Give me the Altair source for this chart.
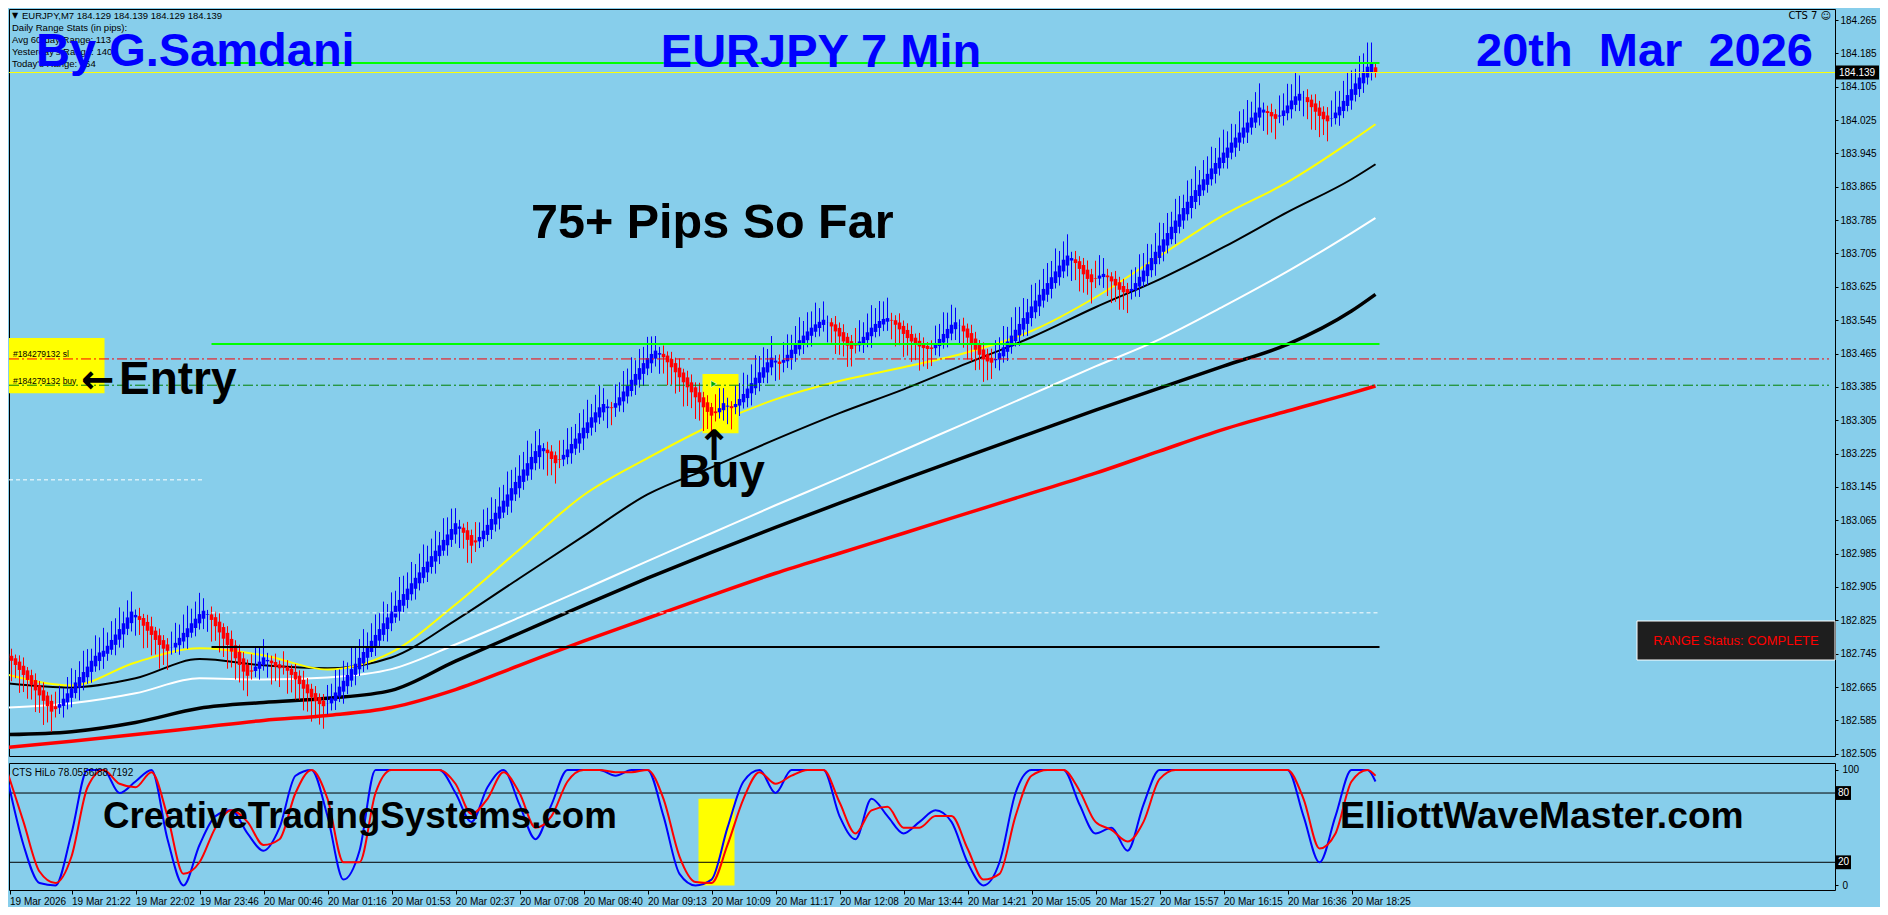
import altair as alt
import pandas as pd

BG = "#87CEEB"
W = 1826
H_MAIN = 747
H_SUB = 127
BASE = 182.0
X_DOM = [0.375, 0.375 + W / 4]
Y_DOM = [182.4996, 184.2914]
O_DOM = [-4, 106]
BODY_HALF = 0.44  # half body width in bar units

# ---------------- data (prices in points above 182.000) ----------------
first_open_pts = 745
closes_pts = [
    735, 728, 718, 706, 694, 682, 670, 657, 645, 632, 619, 606,
    612, 624, 637, 650, 662, 676, 689, 701, 714, 728, 740, 748, 752, 764, 778, 791, 804, 818, 832, 846,
    838, 826, 812, 800, 790, 778, 766, 757, 752,
    760, 771, 783, 795, 806, 818, 829, 840, 848,
    840, 826, 811, 796, 781, 766, 750, 734, 718, 702, 692,
    702, 714, 726, 736,
    730, 722, 714, 710, 712, 704, 694, 683, 672, 661, 650, 640, 631, 624, 619,
    626, 638, 652, 666, 680, 694, 708, 721, 735, 749, 763, 776, 790, 804, 818, 832, 846, 860, 874, 888,
    901, 914, 927, 940, 953, 966, 979, 992, 1005, 1018, 1031, 1044, 1058,
    1050, 1035, 1018, 1004,
    1012, 1025, 1040, 1054, 1068, 1083, 1098, 1112, 1127, 1142, 1157, 1172, 1187, 1202, 1217, 1231, 1245,
    1238, 1226, 1212, 1202,
    1210, 1222, 1235, 1248, 1261, 1274, 1287, 1300, 1312, 1324, 1336, 1344, 1338, 1334, 1346, 1360, 1374,
    1388, 1402, 1416, 1430, 1442, 1454, 1464, 1472,
    1466, 1456, 1444, 1432, 1420, 1408, 1396, 1384, 1372, 1360, 1348, 1336, 1325, 1316,
    1322, 1334, 1346, 1340, 1334, 1344,
    1356, 1368, 1381, 1394, 1407, 1420, 1432, 1444, 1455,
    1448, 1440,
    1450, 1462, 1474, 1486, 1497, 1508, 1518, 1527, 1535, 1541, 1546,
    1540, 1530, 1518, 1506, 1494, 1484, 1476,
    1484, 1494, 1505, 1516, 1527, 1536, 1543, 1548, 1550,
    1544, 1534, 1523, 1512, 1502, 1494, 1488, 1482, 1478, 1476, 1476,
    1488, 1500, 1512, 1524, 1534, 1540,
    1532, 1518, 1503, 1488, 1474, 1462, 1452, 1446, 1443,
    1452, 1466, 1480, 1494, 1508, 1522, 1536, 1550, 1564, 1578, 1592, 1606, 1620, 1634, 1648, 1662, 1676,
    1690, 1700,
    1694, 1682, 1668, 1655, 1644, 1636, 1644, 1652, 1656, 1648, 1638, 1628, 1618, 1612, 1610,
    1620, 1634, 1649, 1664, 1679, 1694, 1709, 1724, 1739, 1754, 1769, 1784, 1799, 1814, 1829, 1843, 1857,
    1870, 1883, 1896, 1909, 1922, 1935, 1947, 1959, 1971, 1983, 1995, 2007, 2019, 2031, 2043, 2055,
    2050, 2042, 2034, 2028,
    2036, 2048, 2060, 2072, 2082, 2088,
    2080, 2068, 2056, 2045, 2035, 2027, 2022,
    2030, 2043, 2057, 2071, 2085, 2099, 2113, 2127, 2141, 2153, 2163,
    2139,
]
# wick lengths beyond the body (points)
up_wick = [
    12, 17, 9, 15, 20, 8, 13, 16, 10, 19, 9, 15, 35, 44, 26, 39, 48, 30, 38, 51,
    42, 29, 49, 36, 55, 32, 45, 39, 52, 28, 41, 48, 13, 20, 10, 17, 23, 9, 16, 12,
    15, 38, 48, 32, 44, 54, 35, 41, 51, 30, 10, 19, 13, 22, 9, 16, 20, 12, 17, 15,
    13, 39, 49, 33, 44, 17, 12, 20, 9, 36, 16, 10, 19, 13, 22, 15, 12, 17, 9, 16,
    44, 35, 54, 41, 48, 30, 51, 38, 45, 55, 33, 42, 49, 39, 52, 32, 46, 36, 55, 44,
    39, 51, 33, 45, 54, 38, 42, 48, 32, 52, 41, 49, 36, 16, 10, 20, 13, 44, 35, 51,
    41, 52, 33, 46, 38, 55, 44, 35, 49, 42, 54, 32, 48, 39, 12, 19, 15, 9, 45, 36,
    51, 41, 35, 48, 44, 54, 32, 42, 52, 38, 17, 13, 45, 36, 49, 41, 54, 33, 46, 39,
    51, 42, 35, 15, 20, 10, 17, 13, 22, 9, 16, 19, 12, 23, 13, 17, 10, 41, 48, 36,
    19, 12, 44, 38, 51, 33, 45, 54, 39, 48, 32, 52, 13, 17, 42, 49, 36, 45, 55, 35,
    46, 39, 52, 33, 44, 16, 10, 20, 13, 19, 9, 15, 41, 51, 35, 45, 54, 38, 48, 42,
    49, 17, 12, 22, 13, 16, 20, 10, 19, 15, 9, 17, 44, 36, 52, 39, 48, 35, 15, 19,
    12, 20, 16, 10, 17, 13, 22, 45, 38, 51, 35, 44, 54, 41, 48, 32, 52, 42, 36, 48,
    48, 39, 55, 35, 44, 51, 15, 20, 12, 17, 22, 13, 42, 49, 38, 16, 10, 19, 13, 17,
    15, 46, 38, 54, 42, 49, 33, 45, 55, 39, 48, 36, 52, 44, 32, 51, 41, 57, 35, 46,
    42, 52, 36, 48, 55, 39, 45, 32, 51, 44, 54, 38, 49, 58, 17, 13, 20, 12, 48, 41,
    52, 39, 57, 44, 15, 19, 12, 22, 16, 13, 20, 42, 51, 38, 48, 55, 45, 35, 52, 44,
    58, 48, 9,
]
dn_wick = [
    38, 49, 32, 55, 41, 45, 35, 52, 42, 58, 39, 48, 20, 15, 28, 17, 23, 13, 30, 19,
    16, 26, 13, 22, 29, 17, 12, 25, 19, 32, 15, 20, 44, 36, 54, 41, 49, 35, 57, 39,
    46, 17, 13, 23, 16, 28, 12, 20, 15, 25, 41, 52, 35, 48, 44, 57, 38, 51, 42, 45,
    49, 19, 15, 26, 13, 39, 51, 35, 45, 17, 55, 42, 48, 38, 52, 44, 58, 41, 49, 54,
    26, 17, 22, 13, 29, 19, 15, 25, 16, 20, 28, 12, 23, 17, 15, 30, 19, 13, 22, 16,
    20, 15, 26, 17, 13, 23, 16, 29, 19, 12, 25, 17, 22, 46, 38, 55, 42, 23, 16, 19,
    15, 22, 17, 26, 13, 20, 29, 16, 23, 19, 12, 25, 17, 28, 44, 54, 39, 49, 20, 16,
    17, 25, 15, 22, 28, 13, 19, 23, 16, 20, 48, 41, 22, 15, 26, 17, 13, 23, 19, 29,
    16, 23, 19, 46, 39, 55, 42, 51, 35, 58, 45, 38, 52, 44, 57, 41, 49, 20, 15, 25,
    42, 51, 17, 25, 15, 22, 29, 16, 20, 13, 26, 19, 44, 38, 23, 16, 28, 19, 15, 22,
    17, 26, 13, 20, 16, 48, 39, 54, 44, 36, 51, 42, 19, 15, 23, 17, 28, 13, 20, 16,
    22, 45, 52, 38, 55, 42, 49, 39, 58, 44, 48, 41, 17, 25, 15, 22, 16, 26, 46, 39,
    52, 42, 49, 36, 55, 45, 39, 19, 26, 15, 22, 17, 13, 25, 16, 29, 20, 15, 23, 17,
    17, 23, 13, 20, 16, 26, 49, 41, 54, 44, 38, 51, 22, 16, 26, 45, 52, 39, 48, 42,
    48, 20, 16, 25, 13, 22, 17, 28, 15, 23, 19, 12, 26, 16, 20, 15, 25, 17, 22, 13,
    19, 15, 23, 17, 13, 26, 16, 22, 20, 15, 25, 17, 13, 19, 44, 52, 39, 49, 16, 23,
    17, 22, 15, 25, 46, 41, 54, 44, 51, 38, 48, 20, 15, 25, 17, 13, 22, 16, 19, 23,
    17, 20, 12,
]

# moving averages, sampled at bar positions
ma_bars = [0, 16, 32, 48, 64, 80, 96, 112, 128, 144, 160, 176, 192, 208, 224, 240, 256, 272, 288, 304, 320, 336, 342]
ma_yellow = [695, 669, 724, 758, 741, 707, 748, 863, 995, 1125, 1214, 1293, 1355, 1399, 1432, 1468, 1519, 1600, 1699, 1797, 1876, 1975, 2015]
ma_black_thin = [674, 664, 686, 732, 717, 710, 736, 825, 926, 1027, 1127, 1192, 1259, 1322, 1379, 1442, 1504, 1576, 1643, 1720, 1804, 1883, 1919]
ma_white = [616, 626, 650, 686, 683, 688, 708, 767, 832, 899, 967, 1034, 1101, 1166, 1233, 1300, 1367, 1434, 1499, 1578, 1662, 1754, 1790]
ma_black_thick = [551, 558, 580, 614, 628, 638, 657, 727, 794, 861, 926, 988, 1048, 1106, 1163, 1219, 1274, 1329, 1382, 1435, 1487, 1567, 1607]
ma_red = [520, 535, 551, 568, 585, 597, 616, 659, 717, 775, 830, 885, 938, 986, 1034, 1082, 1130, 1178, 1231, 1283, 1327, 1370, 1387]

# oscillator (CTS HiLo), sampled every 4 bars + last bar
osc_bars = list(range(0, 341, 4)) + [342]
osc_blue = [
    92, 35, 2, 0, 45, 100, 100, 80, 90, 100,
    40, 0, 35, 60, 65, 45, 30, 50, 95, 100,
    60, 5, 30, 100, 100, 100, 100, 100, 80, 55,
    85, 100, 70, 40, 70, 100, 100, 100, 95, 100,
    100, 60, 10, 0, 5, 50, 90, 100, 80, 100,
    100, 100, 60, 40, 75, 60, 45, 55, 65, 55,
    20, 0, 20, 80, 100, 100, 100, 70, 45, 50,
    30, 70, 100, 100, 100, 100, 100, 100, 100, 100,
    100, 60, 20, 60, 100, 100,
    90,
]
osc_red = [
    98, 55, 12, 2, 25, 85, 100, 88, 85, 98,
    60, 10, 20, 50, 65, 55, 35, 40, 80, 100,
    75, 20, 20, 80, 100, 100, 100, 100, 88, 62,
    75, 98, 80, 50, 60, 90, 100, 100, 98, 98,
    100, 75, 25, 3, 2, 35, 75, 98, 88, 95,
    100, 100, 72, 45, 65, 68, 50, 50, 60, 60,
    32, 5, 10, 60, 95, 100, 100, 82, 55, 48,
    38, 55, 92, 100, 100, 100, 100, 100, 100, 100,
    100, 75, 32, 45, 90, 100,
    95,
]

# horizontal levels: price, start bar, end bar
lvl_green = [184.162, 183.488]
lvl_green_start = [52, 51]
lvl_end = 343
bid_price = 184.139
sl_price = 183.452
entry_price = 183.389
white_dot_price, white_dot_end = 183.162, 49
white_dash_price, white_dash_start = 182.843, 51
black_level_price, black_level_start = 182.761, 51

trade_bar = [176.6]
trade_price = [183.392]

time_labels = ["19 Mar 2026", "19 Mar 21:22", "19 Mar 22:02", "19 Mar 23:46", "20 Mar 00:46",
               "20 Mar 01:16", "20 Mar 01:53", "20 Mar 02:37", "20 Mar 07:08", "20 Mar 08:40",
               "20 Mar 09:13", "20 Mar 10:09", "20 Mar 11:17", "20 Mar 12:08", "20 Mar 13:44",
               "20 Mar 14:21", "20 Mar 15:05", "20 Mar 15:27", "20 Mar 15:57", "20 Mar 16:15",
               "20 Mar 16:36", "20 Mar 18:25"]
time_label_bars = [0.5] + [16 * k for k in range(1, len(time_labels))]
price_ticks = [182.505, 182.585, 182.665, 182.745, 182.825, 182.905, 182.985, 183.065, 183.145,
               183.225, 183.305, 183.385, 183.465, 183.545, 183.625, 183.705, 183.785, 183.865,
               183.945, 184.025, 184.105, 184.185, 184.265]


def P(v):
    return BASE + v / 1000.0


# ---------------- candles (Heiken Ashi bodies) ----------------
n = min(len(closes_pts), len(up_wick), len(dn_wick))
ha_open = [float(first_open_pts)]
for k in range(1, n):
    ha_open.append((ha_open[k - 1] + closes_pts[k - 1]) / 2.0)
candles = pd.DataFrame({
    "bar": list(range(n)),
    "open": [P(o) for o in ha_open],
    "close": [P(c) for c in closes_pts[:n]],
    "high": [P(max(ha_open[k], closes_pts[k]) + up_wick[k]) for k in range(n)],
    "low": [P(min(ha_open[k], closes_pts[k]) - dn_wick[k]) for k in range(n)],
    "dir": ["up" if closes_pts[k] >= ha_open[k] else "down" for k in range(n)],
})
candles["bl"] = candles["bar"] - BODY_HALF
candles["br"] = candles["bar"] + BODY_HALF

xs = alt.Scale(domain=X_DOM, nice=False, zero=False)
ys = alt.Scale(domain=Y_DOM, nice=False, zero=False)
osc_s = alt.Scale(domain=O_DOM, nice=False, zero=False)

y_axis = alt.Axis(orient="right", values=price_ticks, format=".3f", tickSize=3, labelPadding=2,
                  domain=False, grid=False, title=None, labelOverlap=False, labelFlush=False,
                  labelBound=False)
o_axis = alt.Axis(orient="right", values=[0, 100], tickSize=3, labelPadding=4,
                  domain=False, grid=False, title=None, labelOverlap=False, labelFlush=False)
lab_expr = "[" + ",".join("'%s'" % s for s in time_labels) + "][round(datum.value/16)]"
x_axis = alt.Axis(values=time_label_bars, labelExpr=lab_expr, labelAlign="left", labelPadding=2,
                  tickSize=4, domain=False, grid=False, title=None, labelOverlap=False,
                  labelFlush=False, labelBound=False)


def MX(f):
    return alt.X(f, scale=xs, axis=None)


def MY(f):
    return alt.Y(f, scale=ys, axis=y_axis)


def SX(f):
    return alt.X(f, scale=xs, axis=x_axis)


def SY(f):
    return alt.Y(f, scale=osc_s, axis=o_axis)


def txt(t, x, y, size, color="black", weight="bold", font="Liberation Sans", align="left",
        baseline="alphabetic"):
    return alt.Chart(pd.DataFrame({"t": [t]})).mark_text(
        align=align, baseline=baseline, font=font, fontSize=size, fontWeight=weight, color=color
    ).encode(text="t:N", x=alt.value(x), y=alt.value(y))


def hline(price, x0, x1, color, width, dash=None):
    df = pd.DataFrame({"y": [price], "x0": [x0], "x1": [x1]})
    kw = dict(color=color, strokeWidth=width, clip=True, opacity=1)
    if dash:
        kw["strokeDash"] = dash
    return alt.Chart(df).mark_rule(**kw).encode(x=MX("x0:Q"), x2="x1:Q", y=MY("y:Q"))


def ma_layer(vals, color, width):
    df = pd.DataFrame({"bar": ma_bars[:len(vals)], "v": [P(v) for v in vals]})
    return alt.Chart(df).mark_line(color=color, strokeWidth=width, interpolate="monotone",
                                   clip=True, opacity=1).encode(x=MX("bar:Q"), y=MY("v:Q"))


# yellow boxes behind candles
boxes = pd.DataFrame({"x0": [X_DOM[0], 173.75], "x1": [24.25, 182.75],
                      "y0": [183.370, 183.274], "y1": [183.502, 183.416]})
box_layer = alt.Chart(boxes).mark_rect(color="#FFFF00", clip=True, opacity=1).encode(
    x=MX("x0:Q"), x2="x1:Q", y=MY("y0:Q"), y2="y1:Q")

color = alt.Color("dir:N", scale=alt.Scale(domain=["up", "down"], range=["#0000FF", "#FF0000"]),
                  legend=None)
wicks = alt.Chart(candles).mark_rule(strokeWidth=1, clip=True, opacity=1).encode(
    x=MX("bar:Q"), y=MY("low:Q"), y2="high:Q", color=color)
bodies = alt.Chart(candles).mark_rect(clip=True, opacity=1, strokeWidth=0).encode(
    x=MX("bl:Q"), x2="br:Q", y=MY("open:Q"), y2="close:Q", color=color)

trade = alt.Chart(pd.DataFrame({"bar": trade_bar, "p": trade_price})).mark_point(
    shape="triangle-right", size=45, filled=True, fill="#00B000", stroke="white", strokeWidth=0.6,
    opacity=1).encode(x=MX("bar:Q"), y=MY("p:Q"))

price_box = alt.Chart(pd.DataFrame({"t": [bid_price + 0.0168], "b": [bid_price - 0.0168]})).mark_rect(
    color="black", opacity=1).encode(x=alt.value(W + 1), x2=alt.value(W + 44), y=MY("t:Q"), y2="b:Q")
price_txt = alt.Chart(pd.DataFrame({"p": [bid_price], "s": ["%.3f" % bid_price]})).mark_text(
    align="left", baseline="middle", font="Liberation Sans", fontSize=10, color="white").encode(
    x=alt.value(W + 4), y=MY("p:Q"), text="s:N")

range_box = alt.Chart(pd.DataFrame({"a": [0]})).mark_rect(
    fill="#1E1E1E", stroke="white", strokeWidth=1, opacity=1).encode(
    x=alt.value(1628), x2=alt.value(W), y=alt.value(612), y2=alt.value(651))

main = alt.layer(
    box_layer,
    ma_layer(ma_red, "#FF0000", 3.5),
    ma_layer(ma_black_thick, "black", 3.5),
    ma_layer(ma_white, "white", 2),
    ma_layer(ma_black_thin, "black", 2),
    ma_layer(ma_yellow, "#FFFF00", 2),
    wicks, bodies,
    hline(lvl_green[0], lvl_green_start[0], lvl_end, "#00FF00", 2),
    hline(lvl_green[1], lvl_green_start[1], lvl_end, "#00FF00", 2),
    hline(bid_price, X_DOM[0], X_DOM[1], "#FFFF00", 1),
    hline(sl_price, X_DOM[0], X_DOM[1] - 1.5, "#FF0000", 1, [10, 3, 2, 3]),
    hline(entry_price, X_DOM[0], X_DOM[1] - 1.5, "#008000", 1, [10, 3, 2, 3]),
    hline(white_dot_price, X_DOM[0], white_dot_end, "white", 1, [4, 3]),
    hline(white_dash_price, white_dash_start, lvl_end, "white", 1, [4, 3]),
    hline(black_level_price, black_level_start, lvl_end, "black", 2),
    trade,
    txt("#184279132 sl", 4, 345, 8.5, weight="normal", baseline="middle"),
    txt("#184279132 buy", 4, 372, 8.5, weight="normal", baseline="middle"),
    txt("\u25BC", 3, 7, 8, weight="normal", font="DejaVu Sans", baseline="middle"),
    txt("EURJPY,M7  184.129 184.139 184.129 184.139", 13, 7, 9.5, weight="normal", baseline="middle"),
    txt("Daily Range Stats (in pips):", 3, 19, 9.5, weight="normal", baseline="middle"),
    txt("Avg 60-day Range: 113", 3, 31, 9.5, weight="normal", baseline="middle"),
    txt("Yesterday's Range: 140", 3, 43, 9.5, weight="normal", baseline="middle"),
    txt("Today's Range: 164", 3, 55, 9.5, weight="normal", baseline="middle"),
    txt("CTS 7 \u263A", W - 4, 7, 10, weight="normal", font="DejaVu Sans", align="right", baseline="middle"),
    txt("By G.Samdani", 27, 57, 47, color="#0000FF"),
    txt("EURJPY 7 Min", 812, 58, 47, color="#0000FF", align="center"),
    txt("20th \u00A0Mar \u00A02026", 1467, 57, 47, color="#0000FF"),
    txt("75+ Pips So Far", 522, 229, 48.5),
    txt("\u2190", 72, 372, 40, font="DejaVu Sans", baseline="middle"),
    txt("Entry", 110, 385, 46),
    txt("\u2191", 705, 451, 42, font="DejaVu Sans", align="center"),
    txt("Buy", 669, 478, 46),
    range_box,
    txt("RANGE Status: COMPLETE", 1727, 632, 13, color="#FF0000", weight="normal", align="center",
        baseline="middle"),
    price_box, price_txt,
).properties(width=W, height=H_MAIN)

# ---------------- oscillator pane ----------------
osc_df_b = pd.DataFrame({"bar": osc_bars[:len(osc_blue)], "v": osc_blue[:len(osc_bars)]})
osc_df_r = pd.DataFrame({"bar": osc_bars[:len(osc_red)], "v": osc_red[:len(osc_bars)]})
sub_box = alt.Chart(pd.DataFrame({"x0": [172.75], "x1": [181.75], "y0": [0], "y1": [75]})).mark_rect(
    color="#FFFF00", clip=True, opacity=1).encode(x=SX("x0:Q"), x2="x1:Q", y=SY("y0:Q"), y2="y1:Q")
lvl_df = pd.DataFrame({"v": [80, 20]})
lvl_rules = alt.Chart(lvl_df).mark_rule(color="black", strokeWidth=1).encode(y=SY("v:Q"))
blue_line = alt.Chart(osc_df_b).mark_line(color="#0000FF", strokeWidth=2, clip=True,
                                          interpolate="monotone").encode(x=SX("bar:Q"), y=SY("v:Q"))
red_line = alt.Chart(osc_df_r).mark_line(color="#FF0000", strokeWidth=2, clip=True,
                                         interpolate="monotone").encode(x=SX("bar:Q"), y=SY("v:Q"))
lvl_box = alt.Chart(pd.DataFrame({"t": [86, 26], "b": [74, 14]})).mark_rect(color="black", opacity=1).encode(
    x=alt.value(W + 1), x2=alt.value(W + 16), y=SY("t:Q"), y2="b:Q")
lvl_txt = alt.Chart(pd.DataFrame({"v": [80, 20], "s": ["80", "20"]})).mark_text(
    align="center", baseline="middle", font="Liberation Sans", fontSize=10, color="white").encode(
    x=alt.value(W + 8.5), y=SY("v:Q"), text="s:N")

sub = alt.layer(
    sub_box, lvl_rules, blue_line, red_line,
    txt("CTS HiLo 78.0556/88.7192", 3, 10, 10, weight="normal", baseline="middle"),
    txt("CreativeTradingSystems.com", 94, 65, 36.7),
    txt("ElliottWaveMaster.com", 1331, 65, 37.2),
    lvl_box, lvl_txt,
).properties(width=W, height=H_SUB)

chart = alt.vconcat(main, sub, spacing=2).properties(
    padding=0, background=BG
).configure_view(stroke="black", strokeWidth=1, fill=BG).configure_axis(
    labelFont="Liberation Sans", labelFontSize=10, labelColor="black", tickColor="black"
)

chart.save("out.html", embed_options={"renderer": "svg", "actions": False})
